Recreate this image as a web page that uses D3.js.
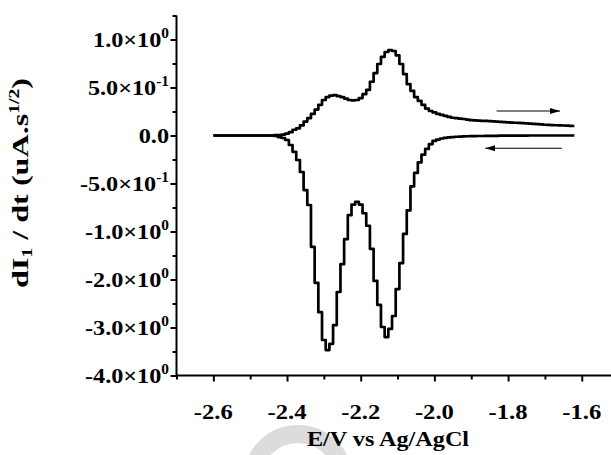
<!DOCTYPE html>
<html>
<head>
<meta charset="utf-8">
<script src="https://cdn.jsdelivr.net/npm/d3@7/dist/d3.min.js"></script>
<style>
  html, body { margin: 0; padding: 0; background: #fff; }
  svg { display: block; }
  text { font-family: "Liberation Serif", "Times New Roman", serif; font-weight: bold; fill: #000; }
</style>
</head>
<body>
<svg id="chart" width="611" height="455"></svg>
<script>
// Potential grid (V vs Ag/AgCl), shared by both sweeps
const potential = [
  -2.60, -2.55, -2.50, -2.45,
  -2.44, -2.43, -2.42, -2.41, -2.40, -2.39, -2.38, -2.37, -2.36, -2.35,
  -2.34, -2.33, -2.32, -2.31, -2.30, -2.29, -2.28, -2.27, -2.26, -2.25,
  -2.24, -2.23, -2.22, -2.21, -2.20, -2.19, -2.18, -2.17, -2.16, -2.15,
  -2.14, -2.13, -2.12, -2.11, -2.10, -2.09, -2.08, -2.07, -2.06, -2.05,
  -2.04, -2.03, -2.02, -2.01, -2.00, -1.99, -1.98, -1.97, -1.96, -1.95,
  -1.94, -1.93, -1.92, -1.91, -1.90, -1.89, -1.88, -1.87, -1.86, -1.85,
  -1.84, -1.83, -1.82, -1.81, -1.80, -1.79, -1.78, -1.77, -1.76, -1.75,
  -1.74, -1.73, -1.72, -1.71, -1.70, -1.69, -1.68, -1.67, -1.66, -1.65,
  -1.64, -1.63, -1.62
];

// Anodic (forward) sweep, dI1/dt
const forwardSweep = [
  0.000, 0.000, 0.000, 0.000,
  0.000, 0.003, 0.005, 0.010, 0.020, 0.035, 0.060, 0.075, 0.105, 0.145,
  0.180, 0.225, 0.270, 0.320, 0.370, 0.400, 0.415, 0.420, 0.410, 0.400,
  0.385, 0.370, 0.365, 0.370, 0.390, 0.430, 0.475, 0.560, 0.650, 0.745,
  0.820, 0.870, 0.890, 0.880, 0.835, 0.745, 0.640, 0.535, 0.465, 0.400,
  0.360, 0.320, 0.280, 0.255, 0.240, 0.225, 0.215, 0.205, 0.195, 0.185,
  0.180, 0.176, 0.172, 0.166, 0.160, 0.157, 0.155, 0.153, 0.152, 0.150,
  0.148, 0.145, 0.142, 0.140, 0.137, 0.135, 0.133, 0.131, 0.129, 0.127,
  0.124, 0.121, 0.118, 0.115, 0.112, 0.110, 0.109, 0.107, 0.106, 0.104,
  0.102, 0.101, 0.099
];

// Cathodic (return) sweep, dI1/dt
const returnSweep = [
  0.000, 0.000, 0.000, 0.000,
  0.000, -0.005, -0.016, -0.026, -0.047, -0.099, -0.170, -0.255, -0.380, -0.568,
  -0.724, -1.320, -2.070, -2.680, -3.260, -3.470, -3.340, -2.950, -2.260, -1.680,
  -1.160, -0.830, -0.720, -0.690, -0.720, -0.810, -0.940, -1.360, -2.030, -2.530,
  -2.990, -3.200, -3.030, -2.760, -2.200, -1.660, -1.050, -0.780, -0.530, -0.390,
  -0.280, -0.200, -0.140, -0.090, -0.057, -0.042, -0.031, -0.024, -0.019, -0.016,
  -0.013, -0.012, -0.010, -0.008, -0.007, -0.006, -0.005, -0.005, -0.004, -0.004,
  -0.003, -0.003, -0.002, -0.002, -0.002, -0.001, -0.001, -0.001, -0.001, -0.001,
  0.000, 0.000, 0.000, 0.000, 0.000, 0.000, 0.000, 0.000, 0.000, 0.000,
  0.000, 0.000, 0.000
];

// Axis ticks
const xMajorTicks = [-2.6, -2.4, -2.2, -2.0, -1.8, -1.6];
const xMinorTicks = [-2.7, -2.5, -2.3, -2.1, -1.9, -1.7, -1.5];
const xTickLabels = ["-2.6", "-2.4", "-2.2", "-2.0", "-1.8", "-1.6"];

const yMajorTicks = [1, 0.5, 0, -0.5, -1, -2, -3, -4];
const yMinorTicks = [1.25, 0.75, 0.25, -0.25, -0.75, -1.5, -2.5, -3.5];
const yTickMantissa = ["1.0", "5.0", "0.0", "-5.0", "-1.0", "-2.0", "-3.0", "-4.0"];
const yTickExponent = ["0", "-1", null, "-1", "0", "0", "0", "0"];

// Sweep direction arrows: [start potential, end potential, level]
const arrowForward = [-1.831, -1.659, 0.255];
const arrowReturn = [-1.654, -1.862, -0.133];

const svg = d3.select("#chart");

// Horizontal potential scale
const x = d3.scaleLinear().domain([-2.7, -1.5]).range([176.5, 618.6]);

// The ordinate is segmented: equal spacing between its labelled values
const y = d3.scaleLinear()
  .domain([-4, -3, -2, -1, -0.5, 0, 0.5, 1, 1.25])
  .range([375.5, 327.5, 279.5, 231.5, 183.5, 135.5, 87.5, 39.5, 15.5]);

// Faint grey ring behind the axis title
svg.append("circle")
  .attr("cx", 298).attr("cy", 480).attr("r", 46)
  .attr("fill", "none").attr("stroke", "#dcdcdc").attr("stroke-width", 18);

// Curves
const line = d3.line()
  .x(d => x(d[0]))
  .y(d => y(d[1]))
  .curve(d3.curveStep);

const fwd = potential.map((e, i) => [e, forwardSweep[i]]);
const ret = potential.map((e, i) => [e, returnSweep[i]]);

[fwd, ret].forEach(series => {
  svg.append("path").datum(series)
    .attr("d", line).attr("fill", "none").attr("stroke", "#000")
    .attr("stroke-width", 2.7).attr("stroke-linejoin", "round");
});

// Arrows
svg.append("defs").append("marker")
  .attr("id", "head").attr("viewBox", "0 0 10 6")
  .attr("refX", 10).attr("refY", 3)
  .attr("markerWidth", 10).attr("markerHeight", 6)
  .attr("markerUnits", "userSpaceOnUse").attr("orient", "auto")
  .append("path").attr("d", "M0,0 L10,3 L0,6 Z").attr("fill", "#000");

[arrowForward, arrowReturn].forEach(a => {
  svg.append("line")
    .attr("x1", x(a[0])).attr("x2", x(a[1]))
    .attr("y1", y(a[2])).attr("y2", y(a[2]))
    .attr("stroke", "#000").attr("stroke-width", 1.1)
    .attr("marker-end", "url(#head)");
});

// Axes
const xAxisG = svg.append("g").attr("transform", `translate(0,${y(-4)})`);
xAxisG.call(d3.axisBottom(x).tickValues(xMajorTicks).tickSize(6).tickSizeOuter(0).tickFormat(""));
xAxisG.append("g").call(d3.axisBottom(x).tickValues(xMinorTicks).tickSize(4).tickSizeOuter(0).tickFormat(""))
  .select(".domain").remove();
xAxisG.selectAll(".domain").attr("stroke-width", 2).attr("d", `M${x(-2.7)},0H${x(-1.5)}`);
xAxisG.selectAll(".tick line").attr("stroke-width", 2);

const yAxisG = svg.append("g").attr("transform", `translate(${x(-2.7)},0)`);
yAxisG.call(d3.axisLeft(y).tickValues(yMajorTicks).tickSize(6).tickSizeOuter(0).tickFormat(""));
yAxisG.append("g").call(d3.axisLeft(y).tickValues(yMinorTicks).tickSize(4).tickSizeOuter(0).tickFormat(""))
  .select(".domain").remove();
yAxisG.selectAll(".domain").attr("stroke-width", 2).attr("d", `M0,${y(1.25)}V${y(-4) + 1}`);
yAxisG.selectAll(".tick line").attr("stroke-width", 2);

// X tick labels
xMajorTicks.forEach((v, i) => {
  svg.append("g")
    .attr("transform", `translate(${x(v)},419) scale(1.12,1)`)
    .append("text").attr("text-anchor", "middle").attr("font-size", 22)
    .text(xTickLabels[i]);
});

// Y tick labels
yMajorTicks.forEach((v, i) => {
  const t = svg.append("g")
    .attr("transform", `translate(169,${y(v) + 7.5}) scale(1.1,1)`)
    .append("text").attr("text-anchor", "end").attr("font-size", 22);
  if (yTickExponent[i] === null) {
    t.text(yTickMantissa[i]);
  } else {
    t.append("tspan").text(yTickMantissa[i] + "\u00d710");
    t.append("tspan").attr("font-size", 14).attr("dy", -9).text(yTickExponent[i]);
  }
});

// Axis titles
svg.append("g")
  .attr("transform", "translate(388,446) scale(1.1,1)")
  .append("text").attr("text-anchor", "middle").attr("font-size", 22)
  .text("E/V vs Ag/AgCl");

const yt = svg.append("g")
  .attr("transform", "translate(28,183) rotate(-90) scale(1.4,1)")
  .append("text").attr("text-anchor", "middle").attr("font-size", 23);
yt.append("tspan").text("dI");
yt.append("tspan").attr("font-size", 14).attr("dy", 4).text("1");
yt.append("tspan").attr("dy", -4).text(" / dt (uA.s");
yt.append("tspan").attr("font-size", 14).attr("dy", -9).text("1/2");
yt.append("tspan").attr("dy", 9).text(")");
</script>
</body>
</html>
